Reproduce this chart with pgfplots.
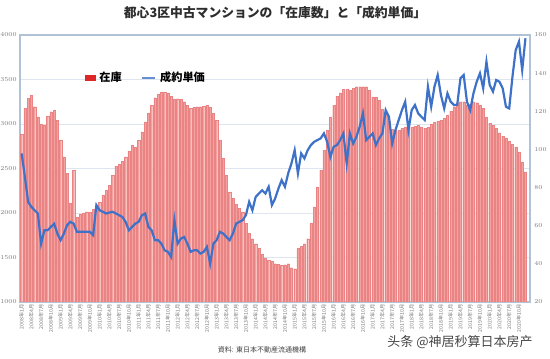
\documentclass[border=0pt]{standalone}
\usepackage{pgfplots}
\pgfplotsset{compat=1.18}
\usepackage{pgfplotstable}
\usepackage{fontspec}
\newfontfamily\cjk{Noto Sans CJK JP}
\newfontfamily\cjksc{Noto Sans CJK SC}
\definecolor{barfill}{RGB}{244,162,160}
\definecolor{baredge}{RGB}{234,132,132}
\definecolor{lineblue}{RGB}{62,114,200}
\definecolor{framec}{RGB}{176,194,214}
\definecolor{gridc}{RGB}{222,229,238}
\definecolor{tickc}{RGB}{120,120,120}
\definecolor{legred}{RGB}{222,40,40}

\pgfplotstableread{
m inv price
0 2886 97.9
1 3175 85.6
2 3288 72.5
3 3325 69.9
4 3194 68.1
5 3081 66.4
6 2995 50.6
7 2988 57.6
8 3089 57.6
9 3138 59.4
10 3156 61.0
11 3044 55.9
12 2819 52.4
13 2631 55.9
14 2444 60.3
15 2106 62.0
16 2481 61.1
17 1956 56.8
18 1986 56.8
19 2001 56.8
20 2012 56.8
21 2012 56.8
22 2039 55.0
23 2080 70.8
24 2117 68.1
25 2200 67.3
26 2256 66.4
27 2312 66.9
28 2425 67.3
29 2526 66.4
30 2549 65.5
31 2582 64.6
32 2631 62.0
33 2699 57.6
34 2762 59.4
35 2744 61.1
36 2819 62.0
37 2912 65.5
38 3025 66.4
39 3119 59.4
40 3212 57.6
41 3295 52.4
42 3332 52.4
43 3355 50.6
44 3362 47.1
45 3344 46.3
46 3314 43.6
47 3276 62.9
48 3284 50.6
49 3276 53.3
50 3250 54.1
51 3212 50.6
52 3175 46.3
53 3186 47.1
54 3194 47.1
55 3194 45.4
56 3201 46.3
57 3209 48.9
58 3186 40.1
59 3119 50.6
60 3044 52.4
61 2819 56.8
62 2612 55.9
63 2425 54.1
64 2237 52.4
65 2162 55.9
66 2099 61.1
67 2050 62.0
68 2012 62.9
69 1881 65.5
70 1769 72.5
71 1712 68.1
72 1656 75.1
73 1600 76.9
74 1536 78.6
75 1495 76.9
76 1469 80.4
77 1454 70.8
78 1431 74.3
79 1424 79.5
80 1412 83.9
81 1420 80.4
82 1431 87.4
83 1386 92.6
84 1375 99.6
85 1600 87.4
86 1626 97.9
87 1656 95.3
88 1712 99.6
89 1881 102.3
90 2069 104.0
91 2294 104.9
92 2481 105.8
93 2706 108.4
94 2931 104.0
95 3081 96.1
96 3212 101.4
97 3314 102.3
98 3351 104.9
99 3392 108.4
100 3389 92.6
101 3381 108.4
102 3404 103.1
103 3419 106.6
104 3419 111.9
105 3419 118.9
106 3419 104.9
107 3381 106.6
108 3306 108.4
109 3306 102.3
110 3269 105.8
111 3167 108.4
112 3111 120.6
113 3036 117.1
114 2939 103.1
115 2931 110.1
116 2931 115.4
117 2950 120.6
118 2969 125.0
119 2969 110.1
120 2969 120.6
121 2976 123.3
122 2984 118.9
123 2969 117.1
124 2950 115.4
125 2961 132.9
126 2999 122.4
127 3021 132.9
128 3032 139.0
129 3044 128.5
130 3066 121.5
131 3100 129.4
132 3145 125.0
133 3194 123.3
134 3239 123.3
135 3250 137.3
136 3250 139.0
137 3212 125.0
138 3224 120.6
139 3250 129.4
140 3239 135.5
141 3212 139.9
142 3175 132.0
143 3074 146.0
144 3006 133.8
145 2988 130.3
146 2950 136.4
147 2901 135.5
148 2864 132.0
149 2845 122.4
150 2811 121.5
151 2770 138.1
152 2744 152.1
153 2688 156.5
154 2575 141.6
155 2462 158.3
}\datatable

\begin{document}
\begin{tikzpicture}
\useasboundingbox (0,0) rectangle (275pt,179pt);
\begin{axis}[
  at={(10pt,28pt)}, anchor=south west, scale only axis,
  width=255pt, height=133.5pt,
  xmin=-0.5, xmax=156.4, ymin=1000, ymax=4000,
  ytick={1000,1500,...,4000},
  ymajorgrids, grid style={gridc, line width=0.4pt},
  axis line style={framec, line width=0.6pt},
  tick style={draw=none},
  xtick={0,3,...,153},
  xticklabel={\pgfmathtruncatemacro\yr{2008+floor(\tick/12)}\pgfmathtruncatemacro\mo{mod(\tick,12)+1}\yr 年\mo 月},
  xticklabel style={rotate=90, anchor=east, font=\cjk\fontsize{2.6}{3}\selectfont, text=tickc, inner sep=1pt},
  yticklabel style={font=\fontsize{3}{3}\selectfont, text=tickc, inner sep=1.5pt,
    /pgf/number format/1000 sep={}, /pgf/number format/assume math mode=true},
  scaled y ticks=false,
]
\addplot[ybar, bar width=0.66, fill=barfill, draw=baredge, line width=0.1pt] table[x=m,y=inv]{\datatable};
\end{axis}
\begin{axis}[
  at={(10pt,28pt)}, anchor=south west, scale only axis,
  width=255pt, height=133.5pt,
  xmin=-0.5, xmax=156.4, ymin=20, ymax=160,
  axis y line*=right, axis x line=none,
  axis line style={framec, line width=0.6pt},
  ytick={20,40,...,160},
  tick style={draw=none},
  yticklabel style={font=\fontsize{3}{3}\selectfont, text=tickc, inner sep=1pt, xshift=1pt,
    /pgf/number format/assume math mode=true},
  legend style={at={(0.114,0.839)}, anchor=west, draw=none, fill=none,
    legend columns=2, font=\cjk\bfseries\fontsize{5.6}{6}\selectfont,
    /tikz/every even column/.append style={column sep=8pt}},
]
\addlegendimage{legend image code/.code={\fill[legred] (0pt,-1.3pt) rectangle (5pt,1.3pt);}}
\addlegendentry{在庫}
\addplot[lineblue, line width=1.1pt, legend image code/.code={\draw[lineblue!80, line width=0.7pt] (0pt,0pt) -- (6.5pt,0pt);}] table[x=m,y=price]{\datatable};
\addlegendentry{成約単価}
\end{axis}
\node[font=\cjk\bfseries\fontsize{6.4}{7}\selectfont, text={rgb,255:red,45;green,45;blue,45}] at (137.5pt,172.5pt) {都心3区中古マンションの「在庫数」と「成約単価」};
\node[font=\cjk\fontsize{3.5}{4}\selectfont, text=black!75] at (131pt,4pt) {資料: 東日本不動産流通機構};
\node[font=\cjksc\fontsize{6.5}{7}\selectfont, text=gray!55!black] at (230pt,8pt) {头条 @神居秒算日本房产};
\end{tikzpicture}
\end{document}
